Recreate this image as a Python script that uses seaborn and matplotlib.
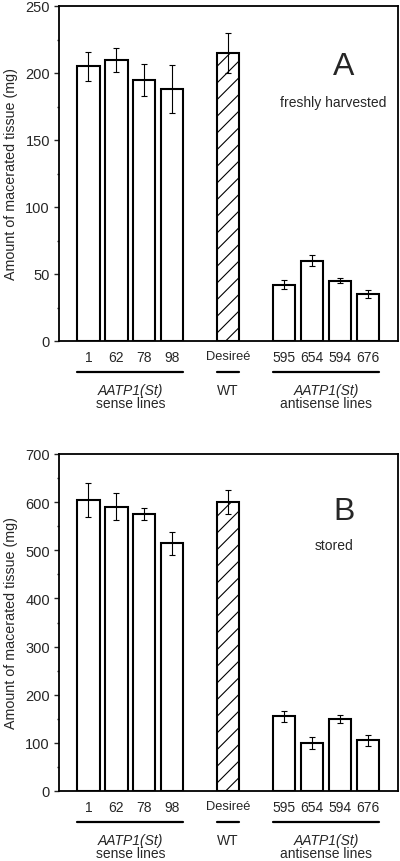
import numpy as np
import pandas as pd
import seaborn as sns
import matplotlib.pyplot as plt
from matplotlib.ticker import MultipleLocator

lines = ['1', '62', '78', '98', 'Desireé', '595', '654', '594', '676']
fresh_mean = [205, 210, 195, 188, 215, 42, 60, 45, 35]
fresh_err = [11, 9, 12, 18, 15, 3.5, 4, 2, 3]
stored_mean = [605, 590, 575, 515, 600, 155, 100, 150, 105]
stored_err = [35, 28, 12, 24, 25, 12, 13, 8, 11]
group_members = {'sense': ['1', '62', '78', '98'], 'WT': ['Desireé'],
                 'antisense': ['595', '654', '594', '676']}

sns.set_style('white')
plt.rcParams['font.family'] = ['Liberation Sans', 'DejaVu Sans']
plt.rcParams['hatch.linewidth'] = 0.8

# blank slots give the gaps between the groups
order = lines[:4] + [' '] + ['Desireé'] + ['  '] + lines[5:]

fig = plt.figure(figsize=(4, 8.62), dpi=100)
W, H = 400, 862
panels = [
    dict(mean=fresh_mean, err=fresh_err, top=7, bottom=342, ymax=250, major=50,
         letter='A', note='freshly harvested', ly=0.82, ny=0.714),
    dict(mean=stored_mean, err=stored_err, top=455, bottom=792, ymax=700, major=100,
         letter='B', note='stored', ly=0.83, ny=0.73),
]

for p in panels:
    ax = fig.add_axes([59 / W, 1 - p['bottom'] / H, 339 / W, (p['bottom'] - p['top']) / H])
    df = pd.DataFrame({'line': lines, 'value': p['mean']})
    sns.barplot(data=df, x='line', y='value', order=order, errorbar=None,
                color='white', edgecolor='black', linewidth=1.5, width=0.8,
                saturation=1, ax=ax)
    xs = [order.index(l) for l in lines]
    ax.errorbar(xs, p['mean'], yerr=p['err'], fmt='none', ecolor='black',
                elinewidth=0.8, capsize=2.5, capthick=0.8, zorder=5)
    wt_x = order.index('Desireé')
    for patch in ax.patches:
        if abs(patch.get_x() + patch.get_width() / 2 - wt_x) < 0.01:
            patch.set_hatch('//')

    ax.set_xlim(-1.05, 11.07)
    ax.set_ylim(0, p['ymax'])
    ax.yaxis.set_major_locator(MultipleLocator(p['major']))
    ax.yaxis.set_minor_locator(MultipleLocator(p['major'] / 2))
    ax.tick_params(axis='y', which='major', left=True, length=3.5, width=1, labelsize=10.5, pad=3)
    ax.tick_params(axis='y', which='minor', left=True, length=1.5, width=1)
    ax.tick_params(axis='x', length=0, labelsize=10, pad=6.5)
    for lab in ax.get_xticklabels():
        if lab.get_text() == 'Desireé':
            lab.set_fontsize(9.3)
    for s in ax.spines.values():
        s.set_linewidth(1.3)
        s.set_color('black')
    ax.set_xlabel('')
    ax.set_ylabel('Amount of macerated tissue (mg)', fontsize=10.3)
    ax.yaxis.set_label_coords(-41 / 339, 0.5)

    ax.text(0.84, p['ly'], p['letter'], transform=ax.transAxes, fontsize=23,
            ha='center', va='center')
    ax.text(0.81, p['ny'], p['note'], transform=ax.transAxes, fontsize=10,
            ha='center', va='center')

    h = p['bottom'] - p['top']
    trans = ax.get_xaxis_transform()
    for g, members in group_members.items():
        x0 = order.index(members[0]) - 0.4
        x1 = order.index(members[-1]) + 0.4
        ax.plot([x0, x1], [-31 / h, -31 / h], color='black', lw=1.6,
                transform=trans, clip_on=False)
        xc = (x0 + x1) / 2
        if g == 'WT':
            ax.text(xc, -49 / h, 'WT', transform=trans, ha='center', va='center', fontsize=10)
        else:
            ax.text(xc, -49 / h, 'AATP1(St)', transform=trans, ha='center', va='center',
                    fontsize=10, style='italic')
            ax.text(xc, -62 / h, g + ' lines', transform=trans, ha='center', va='center',
                    fontsize=10)

plt.savefig('out.png', dpi=100)
